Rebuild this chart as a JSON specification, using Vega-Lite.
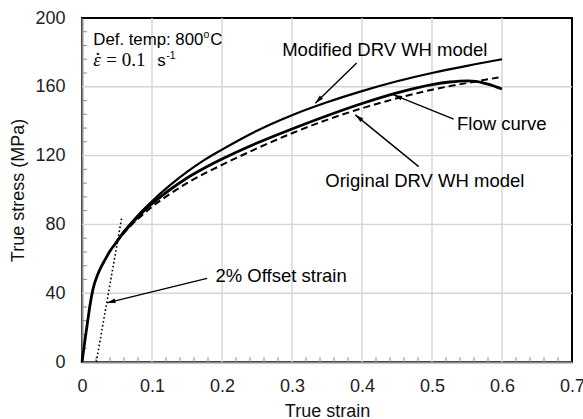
{
  "$schema": "https://vega.github.io/schema/vega-lite/v6.json",
  "width": 490,
  "height": 344,
  "autosize": "none",
  "padding": {"left": 82, "top": 18, "right": 11, "bottom": 57},
  "background": "white",
  "config": {
    "view": {"stroke": "black", "strokeWidth": 2},
    "font": "Liberation Sans",
    "axis": {
      "labelFont": "Liberation Sans",
      "titleFont": "Liberation Sans",
      "labelColor": "#222222",
      "titleColor": "#111111",
      "labelFontSize": 18,
      "titleFontSize": 18,
      "titleFontWeight": "normal",
      "labelFlush": false,
      "labelOverlap": false,
      "domainColor": "#8c8c8c",
      "domainWidth": 2,
      "ticks": false,
      "grid": false
    }
  },
  "datasets": {
    "curves": [
      {"series": "Flow curve", "strain": 0, "stress": 0},
      {"series": "Flow curve", "strain": 0.004, "stress": 12},
      {"series": "Flow curve", "strain": 0.008, "stress": 23.5},
      {"series": "Flow curve", "strain": 0.012, "stress": 34.5},
      {"series": "Flow curve", "strain": 0.015, "stress": 41},
      {"series": "Flow curve", "strain": 0.018, "stress": 45.8},
      {"series": "Flow curve", "strain": 0.022, "stress": 50.5},
      {"series": "Flow curve", "strain": 0.027, "stress": 55},
      {"series": "Flow curve", "strain": 0.033, "stress": 59.5},
      {"series": "Flow curve", "strain": 0.04, "stress": 64.5},
      {"series": "Flow curve", "strain": 0.048, "stress": 69},
      {"series": "Flow curve", "strain": 0.06, "stress": 75.5},
      {"series": "Flow curve", "strain": 0.071, "stress": 80.5},
      {"series": "Flow curve", "strain": 0.085, "stress": 86.5},
      {"series": "Flow curve", "strain": 0.1, "stress": 92},
      {"series": "Flow curve", "strain": 0.125, "stress": 100},
      {"series": "Flow curve", "strain": 0.15, "stress": 107},
      {"series": "Flow curve", "strain": 0.175, "stress": 112.8},
      {"series": "Flow curve", "strain": 0.2, "stress": 118},
      {"series": "Flow curve", "strain": 0.25, "stress": 127.3},
      {"series": "Flow curve", "strain": 0.3, "stress": 135.5},
      {"series": "Flow curve", "strain": 0.35, "stress": 143.2},
      {"series": "Flow curve", "strain": 0.4, "stress": 150.3},
      {"series": "Flow curve", "strain": 0.45, "stress": 156.5},
      {"series": "Flow curve", "strain": 0.5, "stress": 161.3},
      {"series": "Flow curve", "strain": 0.525, "stress": 162.8},
      {"series": "Flow curve", "strain": 0.55, "stress": 163.5},
      {"series": "Flow curve", "strain": 0.565, "stress": 163},
      {"series": "Flow curve", "strain": 0.58, "stress": 161.5},
      {"series": "Flow curve", "strain": 0.6, "stress": 158.7},

      {"series": "Modified DRV WH model", "strain": 0.048, "stress": 69},
      {"series": "Modified DRV WH model", "strain": 0.06, "stress": 76},
      {"series": "Modified DRV WH model", "strain": 0.071, "stress": 81.2},
      {"series": "Modified DRV WH model", "strain": 0.085, "stress": 87.5},
      {"series": "Modified DRV WH model", "strain": 0.1, "stress": 93.5},
      {"series": "Modified DRV WH model", "strain": 0.125, "stress": 102.5},
      {"series": "Modified DRV WH model", "strain": 0.15, "stress": 110.5},
      {"series": "Modified DRV WH model", "strain": 0.175, "stress": 117.5},
      {"series": "Modified DRV WH model", "strain": 0.2, "stress": 123.5},
      {"series": "Modified DRV WH model", "strain": 0.25, "stress": 134.5},
      {"series": "Modified DRV WH model", "strain": 0.3, "stress": 143.5},
      {"series": "Modified DRV WH model", "strain": 0.35, "stress": 151},
      {"series": "Modified DRV WH model", "strain": 0.4, "stress": 157.5},
      {"series": "Modified DRV WH model", "strain": 0.45, "stress": 163.2},
      {"series": "Modified DRV WH model", "strain": 0.5, "stress": 168},
      {"series": "Modified DRV WH model", "strain": 0.55, "stress": 172.2},
      {"series": "Modified DRV WH model", "strain": 0.6, "stress": 176},

      {"series": "Original DRV WH model", "strain": 0.048, "stress": 69},
      {"series": "Original DRV WH model", "strain": 0.06, "stress": 75},
      {"series": "Original DRV WH model", "strain": 0.071, "stress": 79.8},
      {"series": "Original DRV WH model", "strain": 0.085, "stress": 85},
      {"series": "Original DRV WH model", "strain": 0.1, "stress": 90.3},
      {"series": "Original DRV WH model", "strain": 0.125, "stress": 97.5},
      {"series": "Original DRV WH model", "strain": 0.15, "stress": 104},
      {"series": "Original DRV WH model", "strain": 0.175, "stress": 109.6},
      {"series": "Original DRV WH model", "strain": 0.2, "stress": 114.6},
      {"series": "Original DRV WH model", "strain": 0.25, "stress": 124.2},
      {"series": "Original DRV WH model", "strain": 0.3, "stress": 133},
      {"series": "Original DRV WH model", "strain": 0.35, "stress": 140.8},
      {"series": "Original DRV WH model", "strain": 0.4, "stress": 147.5},
      {"series": "Original DRV WH model", "strain": 0.45, "stress": 153.3},
      {"series": "Original DRV WH model", "strain": 0.5, "stress": 158.3},
      {"series": "Original DRV WH model", "strain": 0.55, "stress": 162.2},
      {"series": "Original DRV WH model", "strain": 0.595, "stress": 165.4},

      {"series": "2% offset", "strain": 0.0204, "stress": 0},
      {"series": "2% offset", "strain": 0.057, "stress": 84.5}
    ],
    "gridStrain": [
      {"strain": 0.1}, {"strain": 0.2}, {"strain": 0.3}, {"strain": 0.4}, {"strain": 0.5}, {"strain": 0.6}
    ],
    "gridStress": [
      {"stress": 40}, {"stress": 80}, {"stress": 120}, {"stress": 160}
    ],
    "minorStrain": [
      {"strain": 0.02}, {"strain": 0.04}, {"strain": 0.06}, {"strain": 0.08},
      {"strain": 0.12}, {"strain": 0.14}, {"strain": 0.16}, {"strain": 0.18},
      {"strain": 0.22}, {"strain": 0.24}, {"strain": 0.26}, {"strain": 0.28},
      {"strain": 0.32}, {"strain": 0.34}, {"strain": 0.36}, {"strain": 0.38},
      {"strain": 0.42}, {"strain": 0.44}, {"strain": 0.46}, {"strain": 0.48},
      {"strain": 0.52}, {"strain": 0.54}, {"strain": 0.56}, {"strain": 0.58},
      {"strain": 0.62}, {"strain": 0.64}, {"strain": 0.66}, {"strain": 0.68}
    ],
    "minorStress": [
      {"stress": 8}, {"stress": 16}, {"stress": 24}, {"stress": 32},
      {"stress": 48}, {"stress": 56}, {"stress": 64}, {"stress": 72},
      {"stress": 88}, {"stress": 96}, {"stress": 104}, {"stress": 112},
      {"stress": 128}, {"stress": 136}, {"stress": 144}, {"stress": 152},
      {"stress": 168}, {"stress": 176}, {"stress": 184}, {"stress": 192}
    ],
    "arrows": [
      {"target": "Modified", "strain": 0.3924, "stress": 173.8, "tipStrain": 0.3333, "tipStress": 150.5},
      {"target": "Flow", "strain": 0.531, "stress": 141.2, "tipStrain": 0.4452, "tipStress": 155.3},
      {"target": "Original", "strain": 0.481, "stress": 113.6, "tipStrain": 0.3904, "tipStress": 143.7},
      {"target": "Offset", "strain": 0.1786, "stress": 48.6, "tipStrain": 0.0357, "tipStress": 34.4}
    ],
    "labels": [
      {"kind": "note", "label": "Def. temp: 800", "strain": 0.0161, "stress": 184.4},
      {"kind": "note", "label": "C", "strain": 0.1833, "stress": 184.4},
      {"kind": "sup", "label": "o", "strain": 0.1734, "stress": 184.4},
      {"kind": "italic", "label": "ε", "strain": 0.0161, "stress": 172.2},
      {"kind": "dot", "label": ".", "strain": 0.0225, "stress": 172.2},
      {"kind": "serif", "label": "= 0.1", "strain": 0.0347, "stress": 172.2},
      {"kind": "note", "label": "s", "strain": 0.1076, "stress": 172.2},
      {"kind": "sup", "label": "-1", "strain": 0.1204, "stress": 172.2},
      {"kind": "sans", "label": "Modified DRV WH model", "strain": 0.286, "stress": 178.0},
      {"kind": "sans", "label": "Flow curve", "strain": 0.5357, "stress": 134.9},
      {"kind": "sans", "label": "Original DRV WH model", "strain": 0.3476, "stress": 101.9},
      {"kind": "sans", "label": "2% Offset strain", "strain": 0.1907, "stress": 46.6}
    ]
  },
  "layer": [
    {
      "data": {"name": "gridStrain"},
      "mark": {"type": "rule", "color": "#d4d4d4", "strokeWidth": 1.4},
      "encoding": {
        "x": {
          "field": "strain", "type": "quantitative",
          "scale": {"domain": [0, 0.7], "nice": false},
          "axis": {
            "title": "True strain",
            "values": [0, 0.1, 0.2, 0.3, 0.4, 0.5, 0.6, 0.7],
            "format": "~g",
            "labelPadding": 15,
            "titlePadding": 7
          }
        }
      }
    },
    {
      "data": {"name": "gridStress"},
      "mark": {"type": "rule", "color": "#d4d4d4", "strokeWidth": 1.4},
      "encoding": {
        "y": {
          "field": "stress", "type": "quantitative",
          "scale": {"domain": [0, 200], "nice": false},
          "axis": {
            "title": "True stress (MPa)",
            "values": [0, 40, 80, 120, 160, 200],
            "labelPadding": 17,
            "titlePadding": 7
          }
        }
      }
    },
    {
      "data": {"name": "minorStrain"},
      "mark": {"type": "rule", "color": "#8c8c8c", "strokeWidth": 1},
      "encoding": {
        "x": {"field": "strain", "type": "quantitative"},
        "y": {"datum": 0, "type": "quantitative"},
        "y2": {"datum": 2.8}
      }
    },
    {
      "data": {"name": "minorStress"},
      "mark": {"type": "rule", "color": "#8c8c8c", "strokeWidth": 1},
      "encoding": {
        "y": {"field": "stress", "type": "quantitative"},
        "x": {"datum": 0, "type": "quantitative"},
        "x2": {"datum": 0.0072}
      }
    },
    {
      "data": {"name": "curves"},
      "transform": [{"filter": "datum.series === 'Flow curve'"}],
      "mark": {"type": "line", "color": "black", "strokeWidth": 2.8, "interpolate": "monotone"},
      "encoding": {
        "x": {"field": "strain", "type": "quantitative"},
        "y": {"field": "stress", "type": "quantitative"}
      }
    },
    {
      "data": {"name": "curves"},
      "transform": [{"filter": "datum.series === 'Modified DRV WH model'"}],
      "mark": {"type": "line", "color": "black", "strokeWidth": 2.2, "interpolate": "monotone"},
      "encoding": {
        "x": {"field": "strain", "type": "quantitative"},
        "y": {"field": "stress", "type": "quantitative"}
      }
    },
    {
      "data": {"name": "curves"},
      "transform": [{"filter": "datum.series === 'Original DRV WH model'"}],
      "mark": {"type": "line", "color": "black", "strokeWidth": 2, "strokeDash": [7, 4], "interpolate": "monotone"},
      "encoding": {
        "x": {"field": "strain", "type": "quantitative"},
        "y": {"field": "stress", "type": "quantitative"}
      }
    },
    {
      "data": {"name": "curves"},
      "transform": [{"filter": "datum.series === '2% offset'"}],
      "mark": {"type": "line", "color": "black", "strokeWidth": 1.6, "strokeDash": [1.6, 2.4]},
      "encoding": {
        "x": {"field": "strain", "type": "quantitative"},
        "y": {"field": "stress", "type": "quantitative"}
      }
    },
    {
      "data": {"name": "arrows"},
      "mark": {"type": "rule", "color": "black", "strokeWidth": 1.4},
      "encoding": {
        "x": {"field": "strain", "type": "quantitative"},
        "y": {"field": "stress", "type": "quantitative"},
        "x2": {"field": "tipStrain"},
        "y2": {"field": "tipStress"}
      }
    },
    {
      "data": {"name": "arrows"},
      "transform": [{"filter": "datum.target === 'Modified'"}],
      "mark": {"type": "point", "shape": "M0,0L-0.45,1.7L0.45,1.7Z", "filled": true, "color": "black", "opacity": 1, "size": 100, "angle": 226},
      "encoding": {
        "x": {"field": "tipStrain", "type": "quantitative"},
        "y": {"field": "tipStress", "type": "quantitative"}
      }
    },
    {
      "data": {"name": "arrows"},
      "transform": [{"filter": "datum.target === 'Flow'"}],
      "mark": {"type": "point", "shape": "M0,0L-0.45,1.7L0.45,1.7Z", "filled": true, "color": "black", "opacity": 1, "size": 100, "angle": 292},
      "encoding": {
        "x": {"field": "tipStrain", "type": "quantitative"},
        "y": {"field": "tipStress", "type": "quantitative"}
      }
    },
    {
      "data": {"name": "arrows"},
      "transform": [{"filter": "datum.target === 'Original'"}],
      "mark": {"type": "point", "shape": "M0,0L-0.45,1.7L0.45,1.7Z", "filled": true, "color": "black", "opacity": 1, "size": 100, "angle": 309},
      "encoding": {
        "x": {"field": "tipStrain", "type": "quantitative"},
        "y": {"field": "tipStress", "type": "quantitative"}
      }
    },
    {
      "data": {"name": "arrows"},
      "transform": [{"filter": "datum.target === 'Offset'"}],
      "mark": {"type": "point", "shape": "M0,0L-0.45,1.7L0.45,1.7Z", "filled": true, "color": "black", "opacity": 1, "size": 100, "angle": 256},
      "encoding": {
        "x": {"field": "tipStrain", "type": "quantitative"},
        "y": {"field": "tipStress", "type": "quantitative"}
      }
    },
    {
      "data": {"name": "labels"},
      "transform": [{"filter": "datum.kind === 'sans'"}],
      "mark": {"type": "text", "align": "left", "baseline": "alphabetic", "font": "Liberation Sans", "fontSize": 18.5, "color": "black"},
      "encoding": {
        "x": {"field": "strain", "type": "quantitative"},
        "y": {"field": "stress", "type": "quantitative"},
        "text": {"field": "label"}
      }
    },
    {
      "data": {"name": "labels"},
      "transform": [{"filter": "datum.kind === 'note'"}],
      "mark": {"type": "text", "align": "left", "baseline": "alphabetic", "font": "Liberation Sans", "fontSize": 16.8, "color": "black"},
      "encoding": {
        "x": {"field": "strain", "type": "quantitative"},
        "y": {"field": "stress", "type": "quantitative"},
        "text": {"field": "label"}
      }
    },
    {
      "data": {"name": "labels"},
      "transform": [{"filter": "datum.kind === 'sup'"}],
      "mark": {"type": "text", "align": "left", "baseline": "alphabetic", "font": "Liberation Sans", "fontSize": 10.5, "dy": -7, "color": "black"},
      "encoding": {
        "x": {"field": "strain", "type": "quantitative"},
        "y": {"field": "stress", "type": "quantitative"},
        "text": {"field": "label"}
      }
    },
    {
      "data": {"name": "labels"},
      "transform": [{"filter": "datum.kind === 'italic'"}],
      "mark": {"type": "text", "align": "left", "baseline": "alphabetic", "font": "Liberation Serif", "fontStyle": "italic", "fontSize": 19, "color": "black"},
      "encoding": {
        "x": {"field": "strain", "type": "quantitative"},
        "y": {"field": "stress", "type": "quantitative"},
        "text": {"field": "label"}
      }
    },
    {
      "data": {"name": "labels"},
      "transform": [{"filter": "datum.kind === 'dot'"}],
      "mark": {"type": "text", "align": "center", "baseline": "alphabetic", "font": "Liberation Serif", "fontSize": 19, "dy": -11, "color": "black"},
      "encoding": {
        "x": {"field": "strain", "type": "quantitative"},
        "y": {"field": "stress", "type": "quantitative"},
        "text": {"field": "label"}
      }
    },
    {
      "data": {"name": "labels"},
      "transform": [{"filter": "datum.kind === 'serif'"}],
      "mark": {"type": "text", "align": "left", "baseline": "alphabetic", "font": "Liberation Serif", "fontSize": 19, "color": "black"},
      "encoding": {
        "x": {"field": "strain", "type": "quantitative"},
        "y": {"field": "stress", "type": "quantitative"},
        "text": {"field": "label"}
      }
    }
  ]
}
